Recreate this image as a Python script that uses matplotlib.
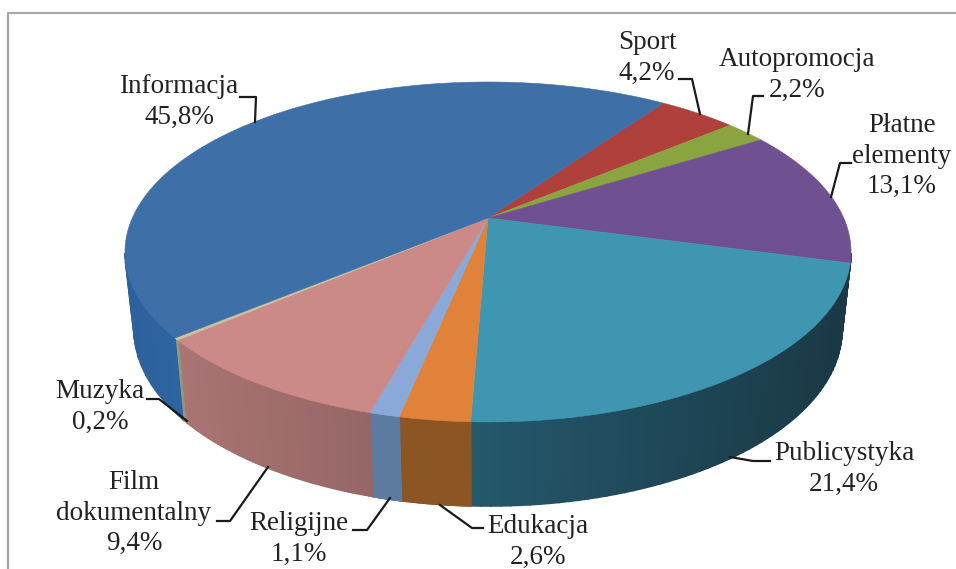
import numpy as np
import matplotlib
matplotlib.use("Agg")
import matplotlib.pyplot as plt
from matplotlib.colors import to_rgb

categories = ["Sport", "Autopromocja", "Płatne\nelementy", "Publicystyka", "Edukacja",
              "Religijne", "Film\ndokumentalny", "Muzyka", "Informacja"]
values = [4.2, 2.2, 13.1, 21.4, 2.6, 1.1, 9.4, 0.2, 45.8]
top_colors = ["#b0403c", "#8aa53f", "#6f5191", "#3f96b0", "#e0823a",
              "#8aa9d8", "#cb8a88", "#c9c2a0", "#3e6fa6"]
# wall colour left -> right along the slice
wall_left = ["#7a2c2a", "#5f7230", "#4a3663", "#24586c", "#8c5524",
             "#5d7aa0", "#a97473", "#8e9a80", "#2c619c"]
wall_right = ["#7a2c2a", "#5f7230", "#4a3663", "#1a3845", "#8c5524",
              "#5d7aa0", "#966666", "#8e9a80", "#2e64a0"]

label_xy = [(647, 58), (797, 75), (902, 156), (844, 469), (538, 542),
            (299, 539), (134, 513), (100, 407), (179, 102)]
leaders = [
    [(679, 79), (692, 79), (700, 114)],
    [(763, 96), (753, 96), (748, 134)],
    [(851, 163), (840, 163), (831, 197)],
    [(770, 461), (753, 461), (730, 457)],
    [(483, 528), (472, 528), (440, 505)],
    [(353, 530), (367, 530), (390, 498)],
    [(217, 521), (230, 521), (268, 467)],
    [(147, 399), (159, 399), (187, 421)],
    [(240, 97), (256, 97), (255, 122)],
]

# tilted disc seen in perspective
CX, CY = 488, 218
A, B, K = 355.7, 163.2, 0.2
START = 55
BOTTOM_SHRINK = 0.975


def project(t):
    t = np.radians(t)
    w = 1 + K * np.sin(t)
    return CX + A * np.cos(t) / w, CY - B * np.sin(t) / w


def wall_depth(t):
    return 76 - 8 * np.sin(np.radians(t))


fig = plt.figure(figsize=(9.56, 5.69), dpi=100)
ax = fig.add_axes([0, 0, 1, 1])
ax.set_xlim(0, 956)
ax.set_ylim(569, 0)
ax.axis("off")

# frame left over from the page
ax.plot([8, 8, 956], [569, 13, 13], color="#a8a8a8", lw=1.6)

ends = START - np.cumsum(values) * 3.6
starts = np.r_[START, ends[:-1]]

# side walls, only the front part of the rim shows
for a0, a1, cl, cr in zip(starts, ends, wall_left, wall_right):
    tt = np.linspace(a0, a1, 60)
    tt = tt[np.sin(np.radians(tt)) < -K + 0.005]
    if len(tt) < 2:
        continue
    x, y = project(tt)
    xb = CX + (x - CX) * BOTTOM_SHRINK
    yb = y + wall_depth(tt)
    c0, c1 = np.array(to_rgb(cl)), np.array(to_rgb(cr))
    span = x.max() - x.min()
    for i in range(len(tt) - 1):
        f = (0.5 * (x[i] + x[i + 1]) - x.min()) / span
        col = c0 + (c1 - c0) * f
        ax.fill([x[i], x[i + 1], xb[i + 1], xb[i]],
                [y[i], y[i + 1], yb[i + 1], yb[i]],
                color=col, lw=1.2, zorder=2)

# top face
for a0, a1, col in zip(starts, ends, top_colors):
    x, y = project(np.linspace(a0, a1, 120))
    ax.fill(np.r_[CX, x], np.r_[CY, y], color=col, lw=0.4, zorder=3)

for name, v, (lx, ly), pts in zip(categories, values, label_xy, leaders):
    ax.text(lx, ly, f"{name}\n{v:.1f}%".replace(".", ","), ha="center", va="center",
            family="Liberation Serif", fontsize=19.5, color="#222222",
            linespacing=1.3, zorder=5)
    ax.plot(*zip(*pts), color="#1a1a1a", lw=1.6, zorder=4)

fig.savefig("out.png", dpi=100)
